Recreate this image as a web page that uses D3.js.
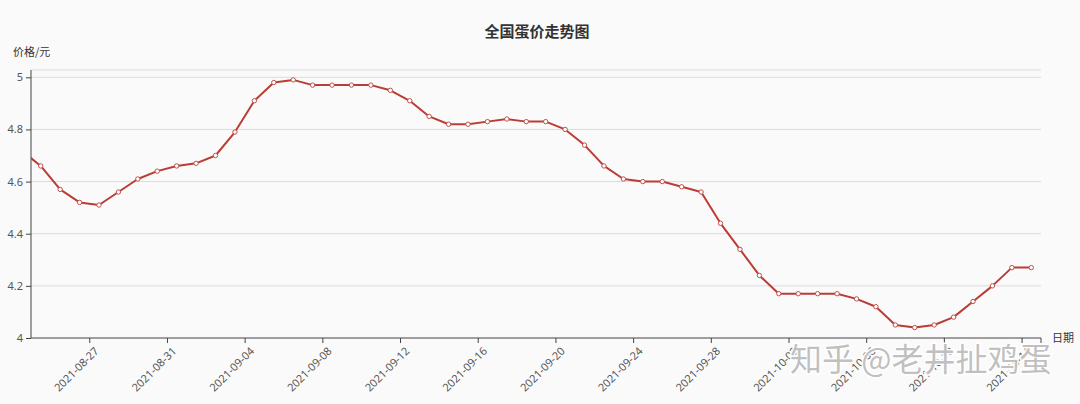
<!DOCTYPE html>
<html>
<head>
<meta charset="utf-8">
<script src="https://cdn.jsdelivr.net/npm/d3@7/dist/d3.min.js"></script>
<style>
  html, body { margin: 0; padding: 0; background: #fafafa; }
  svg { display: block; }
  text { font-family: "Noto Sans CJK SC", "Noto Sans", sans-serif; }
</style>
</head>
<body>
<svg id="chart" width="1080" height="404"></svg>
<script>
// ---- data ----
const dates = [
  "2021-08-23","2021-08-24","2021-08-25","2021-08-26","2021-08-27","2021-08-28","2021-08-29","2021-08-30",
  "2021-08-31","2021-09-01","2021-09-02","2021-09-03","2021-09-04","2021-09-05","2021-09-06","2021-09-07",
  "2021-09-08","2021-09-09","2021-09-10","2021-09-11","2021-09-12","2021-09-13","2021-09-14","2021-09-15",
  "2021-09-16","2021-09-17","2021-09-18","2021-09-19","2021-09-20","2021-09-21","2021-09-22","2021-09-23",
  "2021-09-24","2021-09-25","2021-09-26","2021-09-27","2021-09-28","2021-09-29","2021-09-30","2021-10-01",
  "2021-10-02","2021-10-03","2021-10-04","2021-10-05","2021-10-06","2021-10-07","2021-10-08","2021-10-09",
  "2021-10-10","2021-10-11","2021-10-12","2021-10-13","2021-10-14"
];
const prices = [
  4.72, 4.66, 4.57, 4.52, 4.51, 4.56, 4.61, 4.64,
  4.66, 4.67, 4.70, 4.79, 4.91, 4.98, 4.99, 4.97,
  4.97, 4.97, 4.97, 4.95, 4.91, 4.85, 4.82, 4.82,
  4.83, 4.84, 4.83, 4.83, 4.80, 4.74, 4.66, 4.61,
  4.60, 4.60, 4.58, 4.56, 4.44, 4.34, 4.24, 4.17,
  4.17, 4.17, 4.17, 4.15, 4.12, 4.05, 4.04, 4.05,
  4.08, 4.14, 4.20, 4.27, 4.27
];
const xTickLabels = [
  "2021-08-27","2021-08-31","2021-09-04","2021-09-08","2021-09-12","2021-09-16","2021-09-20",
  "2021-09-24","2021-09-28","2021-10-02","2021-10-06","2021-10-10","2021-10-14"
];
const yTicks = [4, 4.2, 4.4, 4.6, 4.8, 5];
const xDomain = ["2021-08-24", "2021-10-15"];
const yDomain = [4, 5.028];
const titleText = "全国蛋价走势图";
const yAxisName = "价格/元";
const xAxisName = "日期";
const watermarkText = "知乎 @老井扯鸡蛋";

// ---- layout ----
const parse = d3.timeParse("%Y-%m-%d");
const pL = 31, pR = 1041, pT = 70, pB = 338;
const svg = d3.select("#chart");

const x = d3.scaleTime().domain(xDomain.map(parse)).range([pL, pR]);
const y = d3.scaleLinear().domain(yDomain).range([pB, pT]);

const data = dates.map((d, i) => ({ t: d3.timeHour.offset(parse(d), 12), v: prices[i] }));

// background
svg.append("rect").attr("width", 1080).attr("height", 404).attr("fill", "#fafafa");

// title
svg.append("text").attr("x", 537).attr("y", 37).attr("text-anchor", "middle")
  .attr("font-size", 15).attr("font-weight", "bold").attr("fill", "#333").text(titleText);

// grid lines
const grid = svg.append("g");
grid.selectAll("line.g").data(yTicks.filter(t => t > 4)).enter().append("line")
  .attr("x1", pL).attr("x2", pR).attr("y1", d => y(d)).attr("y2", d => y(d))
  .attr("stroke", "#dcdcdc").attr("stroke-width", 1);
grid.append("line").attr("x1", pL).attr("x2", pR).attr("y1", pT).attr("y2", pT)
  .attr("stroke", "#dcdcdc").attr("stroke-width", 1);

// y axis
const yAxis = svg.append("g").attr("transform", `translate(${pL},0)`)
  .call(d3.axisLeft(y).tickValues(yTicks).tickSize(5).tickPadding(3).tickFormat(d3.format("~g")));
yAxis.select(".domain").attr("stroke", "#444").attr("d", `M0,${pT}V${pB}`);
yAxis.selectAll(".tick line").attr("stroke", "#444");
yAxis.selectAll(".tick text").attr("fill", "#555").attr("font-size", 11)
  .style("font-family", "'Noto Sans', sans-serif");

// x axis
const xTickDates = xTickLabels.map(parse);
const xAxis = svg.append("g").attr("transform", `translate(0,${pB})`)
  .call(d3.axisBottom(x).tickValues(xTickDates).tickSize(5).tickFormat(d3.timeFormat("%Y-%m-%d")));
xAxis.select(".domain").attr("stroke", "#444").attr("d", `M${pL},0H${pR}`);
xAxis.selectAll(".tick line").attr("stroke", "#444");
xAxis.selectAll(".tick text").attr("fill", "#555").attr("font-size", 11)
  .style("font-family", "'Noto Sans', sans-serif")
  .attr("text-anchor", "end").attr("dy", "0.35em")
  .attr("transform", "translate(7,11) rotate(-45)").attr("y", 0).attr("x", 0);
// end tick
svg.append("line").attr("x1", pR).attr("x2", pR).attr("y1", pB).attr("y2", pB + 5)
  .attr("stroke", "#444");

// axis names
svg.append("text").attr("x", 13).attr("y", 56).attr("font-size", 11).attr("fill", "#333").text(yAxisName);
svg.append("text").attr("x", 1052).attr("y", 342).attr("font-size", 11).attr("fill", "#333").text(xAxisName);

// clip
svg.append("clipPath").attr("id", "clip").append("rect")
  .attr("x", pL).attr("y", pT - 10).attr("width", pR - pL).attr("height", pB - pT + 20);

const plot = svg.append("g").attr("clip-path", "url(#clip)");
const line = d3.line().x(d => x(d.t)).y(d => y(d.v));
plot.append("path").datum(data).attr("d", line).attr("fill", "none")
  .attr("stroke", "#bb3c35").attr("stroke-width", 2).attr("stroke-linejoin", "round");

plot.selectAll("circle").data(data.filter(d => x(d.t) >= pL)).enter().append("circle")
  .attr("cx", d => x(d.t)).attr("cy", d => y(d.v)).attr("r", 2.2)
  .attr("fill", "#fff").attr("stroke", "#c0524c").attr("stroke-width", 1);

// watermark
svg.append("text").attr("x", 790).attr("y", 371).attr("font-size", 32)
  .attr("fill", "rgba(165,165,165,0.7)").attr("stroke", "rgba(255,255,255,0.95)")
  .attr("stroke-width", 3).attr("paint-order", "stroke").text(watermarkText);
</script>
</body>
</html>
